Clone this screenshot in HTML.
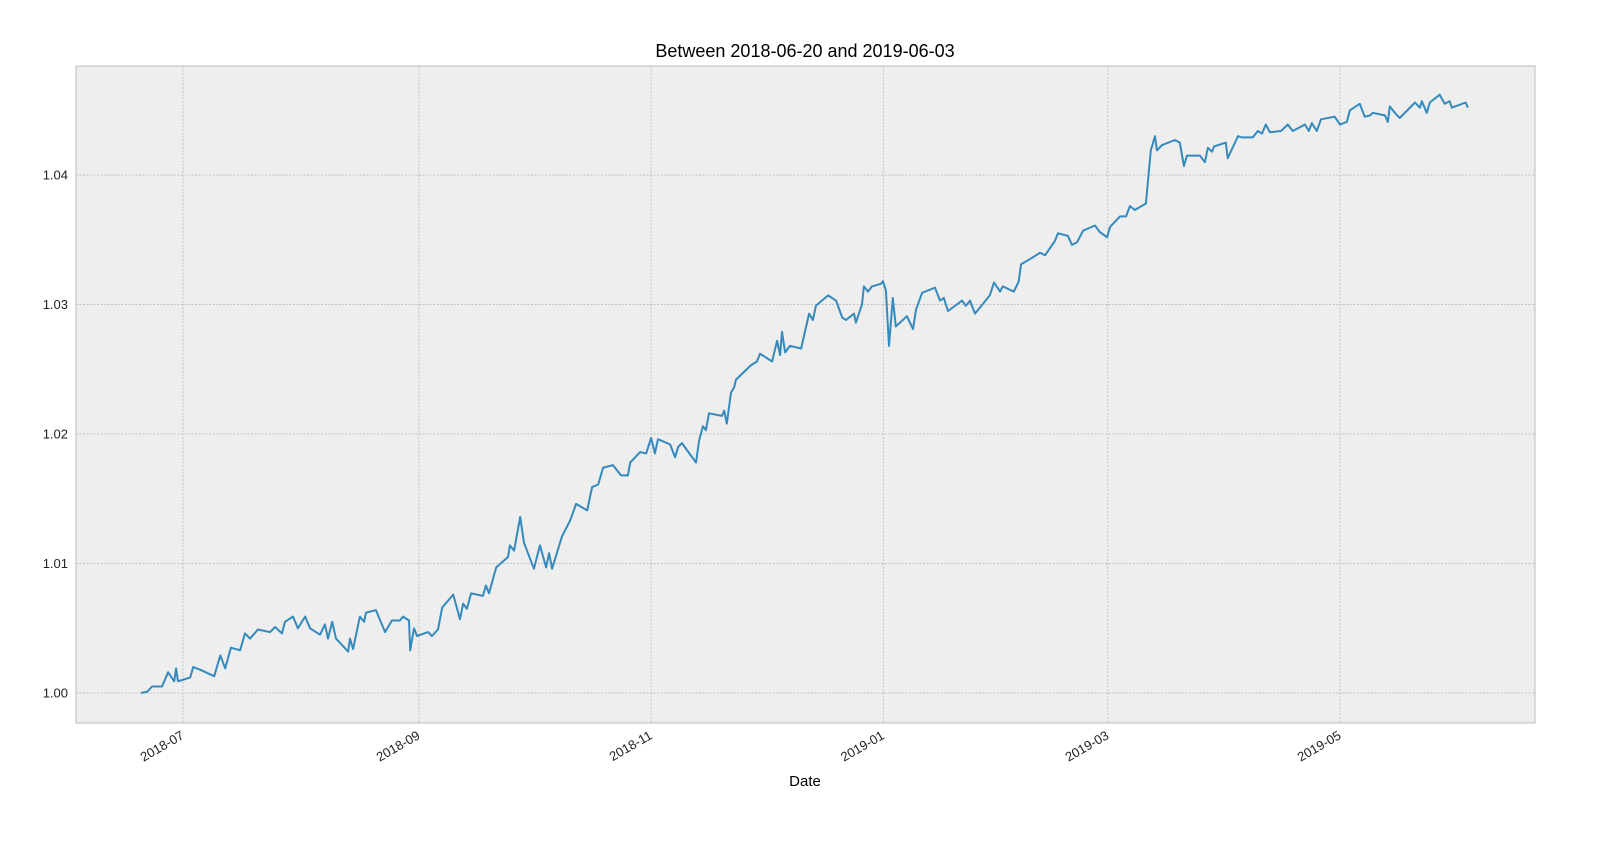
<!DOCTYPE html>
<html><head><meta charset="utf-8"><style>
html,body{margin:0;padding:0;background:#fff;font-family:"Liberation Sans",sans-serif;overflow:hidden}
svg{display:block}
</style></head><body>
<svg id="chart" width="1603" height="850" xmlns="http://www.w3.org/2000/svg" font-family="Liberation Sans, sans-serif">
<rect x="76" y="66" width="1459" height="657" fill="#eeeeee" stroke="#bcbcbc" stroke-width="1"/>
<g id="grid"></g>
<g id="ticks"></g>
<path id="line" fill="none" stroke="#348abd" stroke-width="2" stroke-linejoin="round"/>
<text x="805" y="57" text-anchor="middle" font-size="18">Between 2018-06-20 and 2019-06-03</text>
<text x="805" y="786" text-anchor="middle" font-size="15">Date</text>
</svg>
<script>
const days=[0,1.6,2.9,5.5,7.1,8.7,9.2,9.7,12.9,13.7,15.5,19.2,20.8,22.1,23.6,26.0,27.3,28.6,30.7,33.9,35.2,37.0,37.8,39.9,41.2,43.1,44.4,47.0,48.3,49.1,50.2,51.2,54.4,54.9,55.7,57.5,58.6,59.1,61.7,64.1,65.9,68.0,68.8,70.4,70.7,71.7,72.5,75.4,76.4,78.0,79.1,82.0,83.8,84.6,85.6,86.7,89.8,90.6,91.4,93.3,96.4,96.9,98.0,99.6,100.6,103.2,104.8,106.4,107.2,108.0,110.6,112.7,114.3,117.2,118.5,120.1,121.4,124.0,126.1,127.9,128.5,131.1,132.7,134.0,135.0,135.8,139.0,140.3,141.1,142.1,145.8,146.6,147.6,148.4,149.2,152.6,153.2,153.9,155.0,155.8,156.3,160.2,161.8,162.6,165.8,167.1,167.9,168.4,169.2,170.5,173.4,175.5,176.5,177.3,180.5,182.6,184.2,185.2,187.3,187.8,189.4,189.9,191.0,192.0,194.4,194.9,195.7,196.5,197.5,198.3,201.2,202.8,203.6,205.2,208.6,209.9,210.9,212.0,215.7,216.7,217.8,219.1,223.0,224.1,225.7,226.4,229.3,230.6,231.2,233.5,236.2,237.5,240.1,240.9,243.5,244.6,245.9,247.5,250.6,251.9,253.8,254.6,257.2,258.8,259.8,261.1,264.0,265.3,266.4,266.9,268.2,271.6,272.9,274.0,274.8,278.2,279.5,280.3,281.4,281.9,285.0,285.5,288.2,289.2,292.1,293.4,294.5,295.5,296.6,299.5,301.3,302.6,305.8,306.8,307.6,308.9,310.0,313.6,315.0,316.8,317.6,320.2,321.5,322.9,323.6,326.8,327.6,328.1,329.4,330.7,334.7,336.0,336.5,337.8,338.6,341.2,342.5,343.8,344.4,348.0,348.6];
const values=[1.0000,1.0001,1.0005,1.0005,1.0016,1.0009,1.0019,1.0009,1.0012,1.0020,1.0018,1.0013,1.0029,1.0019,1.0035,1.0033,1.0046,1.0042,1.0049,1.0047,1.0051,1.0046,1.0055,1.0059,1.0050,1.0059,1.0050,1.0045,1.0053,1.0042,1.0055,1.0042,1.0032,1.0042,1.0034,1.0059,1.0055,1.0062,1.0064,1.0047,1.0056,1.0056,1.0059,1.0056,1.0033,1.0050,1.0044,1.0047,1.0044,1.0049,1.0066,1.0076,1.0057,1.0069,1.0065,1.0077,1.0075,1.0083,1.0077,1.0097,1.0105,1.0114,1.0110,1.0136,1.0116,1.0096,1.0114,1.0097,1.0108,1.0096,1.0121,1.0133,1.0146,1.0141,1.0159,1.0161,1.0174,1.0176,1.0168,1.0168,1.0178,1.0186,1.0185,1.0197,1.0185,1.0196,1.0192,1.0182,1.0190,1.0193,1.0178,1.0195,1.0206,1.0203,1.0216,1.0214,1.0218,1.0208,1.0232,1.0236,1.0242,1.0253,1.0256,1.0262,1.0256,1.0272,1.0261,1.0279,1.0263,1.0268,1.0266,1.0293,1.0288,1.0299,1.0307,1.0303,1.0290,1.0288,1.0293,1.0286,1.0300,1.0314,1.0310,1.0314,1.0316,1.0318,1.0311,1.0268,1.0305,1.0283,1.0291,1.0281,1.0296,1.0309,1.0313,1.0303,1.0305,1.0295,1.0303,1.0299,1.0303,1.0293,1.0307,1.0317,1.0310,1.0314,1.0310,1.0318,1.0331,1.0335,1.0340,1.0338,1.0349,1.0355,1.0353,1.0346,1.0348,1.0357,1.0361,1.0356,1.0352,1.0360,1.0368,1.0368,1.0376,1.0373,1.0378,1.0419,1.0430,1.0419,1.0423,1.0427,1.0425,1.0407,1.0415,1.0415,1.0410,1.0421,1.0418,1.0422,1.0425,1.0413,1.0430,1.0429,1.0429,1.0434,1.0432,1.0439,1.0433,1.0434,1.0439,1.0434,1.0439,1.0434,1.0440,1.0434,1.0443,1.0445,1.0439,1.0441,1.0450,1.0455,1.0445,1.0446,1.0448,1.0446,1.0441,1.0453,1.0448,1.0444,1.0456,1.0452,1.0457,1.0448,1.0456,1.0462,1.0455,1.0457,1.0452,1.0456,1.0452];
const xTickDays=[11,73,134,195,254,315];
const xTickLabels=["2018-07","2018-09","2018-11","2019-01","2019-03","2019-05"];
const yTicks=[1.00,1.01,1.02,1.03,1.04];
const yTickLabels=["1.00","1.01","1.02","1.03","1.04"];

const X=d=>141.1+d*3.806;
const Y=v=>693-(v-1)*12950;
const NS="http://www.w3.org/2000/svg";
const grid=document.getElementById('grid'),ticks=document.getElementById('ticks');
function mk(tag,attrs,parent){const e=document.createElementNS(NS,tag);for(const k in attrs)e.setAttribute(k,attrs[k]);parent.appendChild(e);return e;}
xTickDays.forEach((d,i)=>{
  const x=X(d);
  const g=mk('line',{x1:x,x2:x,y1:66,y2:723,stroke:'#b2b2b2','stroke-width':0.7,'stroke-dasharray':'2,1.5'},grid);
  
  
  const t=mk('text',{x:x+2,y:738,'text-anchor':'end','font-size':13,fill:'#222',transform:`rotate(-30 ${x+2} 738)`},ticks);
  
  
  t.textContent=xTickLabels[i];
});
yTicks.forEach((v,i)=>{
  const y=Y(v);
  const g=mk('line',{x1:76,x2:1535,y1:y,y2:y,stroke:'#b2b2b2','stroke-width':0.7,'stroke-dasharray':'2,1.5'},grid);
  
  
  const t=mk('text',{x:68,y:y+4.5,'text-anchor':'end','font-size':13,fill:'#222'},ticks);
  
  
  t.textContent=yTickLabels[i];
});
document.getElementById('line').setAttribute('d',days.map((d,i)=>(i?'L':'M')+X(d).toFixed(1)+','+Y(values[i]).toFixed(1)).join(''));
</script>
</body></html>
